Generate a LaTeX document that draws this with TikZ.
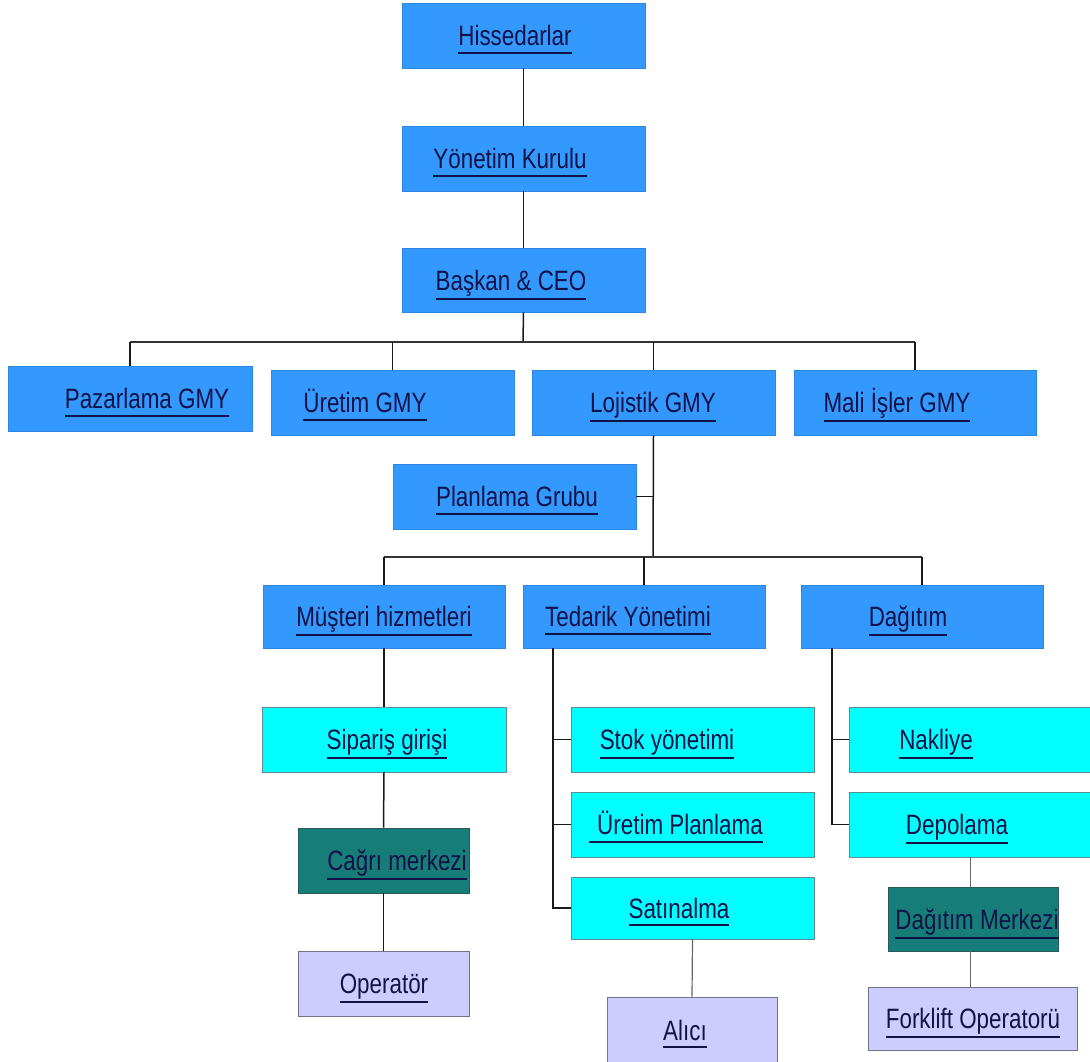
\documentclass[tikz,border=0pt]{standalone}
\usepackage{fontspec}
\setmainfont{Liberation Sans}[FakeStretch=0.8]
\usetikzlibrary{calc}

\definecolor{mgmtblue}{RGB}{51,153,255}
\definecolor{mgmtedge}{RGB}{45,135,225}
\definecolor{unitcyan}{RGB}{0,255,255}
\definecolor{cyanedge}{RGB}{95,140,140}
\definecolor{deeptile}{RGB}{22,125,120}
\definecolor{deepedge}{RGB}{40,90,90}
\definecolor{staffviolet}{RGB}{204,204,255}
\definecolor{violetedge}{RGB}{115,115,135}
\definecolor{labelink}{RGB}{18,18,70}

% underlined label with a heavier rule that clears descenders
\newsavebox{\ulbox}
\newlength{\uldrop}
\newcommand{\ulword}[1]{%
  \sbox{\ulbox}{#1}%
  \setlength{\uldrop}{\dp\ulbox}\addtolength{\uldrop}{4pt}%
  \ifdim\uldrop<8pt\setlength{\uldrop}{8pt}\fi
  \rlap{\raisebox{-\uldrop}{\rule{\wd\ulbox}{2pt}}}\usebox{\ulbox}}

% #1 style, #2 name, #3 left, #4 top, #5 right, #6 bottom, #7 label x, #8 label
\newcommand{\orgbox}[8]{%
  \node[#1, minimum width={(#5-#3)*1pt}, minimum height={(#6-#4)*1pt}]
    (#2) at ({(#3+#5)/2},{(#4+#6)/2}) {};
  \node[lbl] (#2-t) at (#7,{(#4+#6)/2+10}) {\ulword{#8}};
}

\tikzset{
  tile/.style={draw, rectangle, inner sep=0pt, line width=0.8pt},
  mgmt/.style={tile, fill=mgmtblue, draw=mgmtedge},
  unit/.style={tile, fill=unitcyan, draw=cyanedge},
  deep/.style={tile, fill=deeptile, draw=deepedge},
  staff/.style={tile, fill=staffviolet, draw=violetedge},
  lbl/.style={anchor=base, inner sep=0pt, text=labelink,
              font=\fontsize{28}{32}\selectfont},
  conn/.style={draw=black!90, line width=1.5pt},
  bus/.style={draw=black!80, line width=2.2pt},
  faint/.style={draw=black!60, line width=1.2pt},
}

\begin{document}
\begin{tikzpicture}[x=1pt, y=-1pt]
\useasboundingbox[fill=white] (0,0) rectangle (1090,1061);

% top of the hierarchy
\orgbox{mgmt}{his}{402}{3}{645}{68}{515}{Hissedarlar}
\orgbox{mgmt}{yon}{402}{126}{645}{191}{510}{Yönetim Kurulu}
\orgbox{mgmt}{ceo}{402}{248}{645}{312}{511}{Başkan \& CEO}

% deputy general managers
\orgbox{mgmt}{paz}{8}{366}{252}{431}{147}{Pazarlama GMY}
\orgbox{mgmt}{ure}{271}{370}{514}{435}{365}{Üretim GMY}
\orgbox{mgmt}{loj}{532}{370}{775}{435}{653}{Lojistik GMY}
\orgbox{mgmt}{mal}{794}{370}{1036}{435}{897}{Mali İşler GMY}

\orgbox{mgmt}{pla}{393}{464}{636}{529}{517}{Planlama Grubu}

% logistics departments
\orgbox{mgmt}{mus}{263}{585}{505}{648}{384}{Müşteri hizmetleri}
\orgbox{mgmt}{ted}{523}{585}{765}{648}{628}{Tedarik Yönetimi}
\orgbox{mgmt}{dag}{801}{585}{1043}{648}{908}{Dağıtım}

% sections
\orgbox{unit}{sip}{262}{707}{506}{772}{387}{Sipariş girişi}
\orgbox{unit}{stk}{571}{707}{814}{772}{667}{Stok yönetimi}
\orgbox{unit}{urp}{571}{792}{814}{857}{676}{\hspace{8pt}Üretim Planlama}
\orgbox{unit}{sat}{571}{877}{814}{939}{679}{Satınalma}
\orgbox{unit}{nak}{849}{707}{1092}{772}{936}{Nakliye}
\orgbox{unit}{dep}{849}{792}{1092}{857}{957}{Depolama}

\orgbox{deep}{cag}{298}{828}{469}{893}{397}{Cağrı merkezi}
\orgbox{deep}{dmk}{888}{887}{1058}{951}{977}{Dağıtım Merkezi}

\orgbox{staff}{ope}{298}{951}{469}{1016}{384}{Operatör}
\orgbox{staff}{ali}{607}{997}{777}{1063}{685}{Alıcı}
\orgbox{staff}{frk}{868}{987}{1077}{1050}{973}{Forklift Operatorü}

% connectors
\coordinate (busA) at (523,342);
\coordinate (busB) at (653,557);
\coordinate (tedrail) at (553,0);
\coordinate (dagrail) at (832,0);

\draw[conn] (his.south) -- (yon.north);
\draw[conn] (yon.south) -- (ceo.north);
\draw[conn] (ceo.south) -- (busA);
\draw[bus] (paz.north |- busA) -- (mal.north |- busA);
\foreach \n in {paz,ure,loj,mal}
  \draw[conn] (\n.north |- busA) -- (\n.north);

\draw[conn] (loj.south) -- (busB);
\draw[conn] (pla.east) -- (pla.east -| busB);
\draw[bus] (mus.north |- busB) -- (dag.north |- busB);
\foreach \n in {mus,ted,dag}
  \draw[conn] (\n.north |- busB) -- (\n.north);

\draw[conn] (mus.south) -- (sip.north);
\draw[conn] (sip.south) -- (cag.north);
\draw[conn] (cag.south) -- (ope.north);

\draw[conn] (ted.south -| tedrail) -- (sat.west -| tedrail) -- (sat.west);
\draw[conn] (stk.west -| tedrail) -- (stk.west);
\draw[conn] (urp.west -| tedrail) -- (urp.west);

\draw[conn] (dag.south -| dagrail) -- (dep.west -| dagrail) -- (dep.west);
\draw[conn] (nak.west -| dagrail) -- (nak.west);

\draw[faint] (sat.south) -- (ali.north);
\draw[faint] (dep.south) -- (dep.south |- dmk.north);
\draw[faint] (dep.south |- dmk.south) -- (dep.south |- frk.north);
\end{tikzpicture}
\end{document}
